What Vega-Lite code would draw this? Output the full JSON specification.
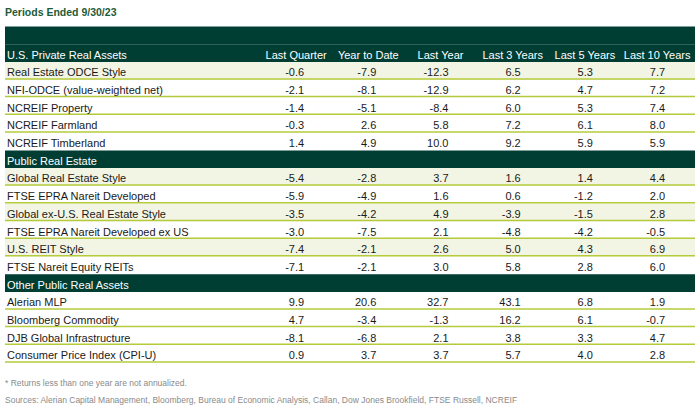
{
  "$schema": "https://vega.github.io/schema/vega-lite/v6.json",
  "width": 690,
  "height": 407,
  "autosize": {"type": "none"},
  "padding": {"left": 5, "right": 5, "top": 0, "bottom": 0},
  "background": "white",
  "config": {
    "view": {"stroke": null},
    "font": "Liberation Sans",
    "locale": {"number": {"decimal": ".", "thousands": ",", "grouping": [3], "currency": ["$", ""], "minus": "-"}}
  },
  "datasets": {
    "rows": [
      {"row": "title", "kind": "title"},
      {"row": "band", "kind": "band"},
      {"row": "U.S. Private Real Assets", "kind": "section"},
      {"row": "Real Estate ODCE Style", "kind": "index"},
      {"row": "NFI-ODCE (value-weighted net)", "kind": "index"},
      {"row": "NCREIF Property", "kind": "index"},
      {"row": "NCREIF Farmland", "kind": "index"},
      {"row": "NCREIF Timberland", "kind": "index"},
      {"row": "Public Real Estate", "kind": "section"},
      {"row": "Global Real Estate Style", "kind": "index"},
      {"row": "FTSE EPRA Nareit Developed", "kind": "index"},
      {"row": "Global ex-U.S. Real Estate Style", "kind": "index"},
      {"row": "FTSE EPRA Nareit Developed ex US", "kind": "index"},
      {"row": "U.S. REIT Style", "kind": "index"},
      {"row": "FTSE Nareit Equity REITs", "kind": "index"},
      {"row": "Other Public Real Assets", "kind": "section"},
      {"row": "Alerian MLP", "kind": "index"},
      {"row": "Bloomberg Commodity", "kind": "index"},
      {"row": "DJB Global Infrastructure", "kind": "index"},
      {"row": "Consumer Price Index (CPI-U)", "kind": "index"},
      {"row": "note1", "kind": "note"},
      {"row": "note2", "kind": "note"}
    ],
    "returns": [
      {"row": "Real Estate ODCE Style", "Last Quarter": -0.6, "Year to Date": -7.9, "Last Year": -12.3, "Last 3 Years": 6.5, "Last 5 Years": 5.3, "Last 10 Years": 7.7},
      {"row": "NFI-ODCE (value-weighted net)", "Last Quarter": -2.1, "Year to Date": -8.1, "Last Year": -12.9, "Last 3 Years": 6.2, "Last 5 Years": 4.7, "Last 10 Years": 7.2},
      {"row": "NCREIF Property", "Last Quarter": -1.4, "Year to Date": -5.1, "Last Year": -8.4, "Last 3 Years": 6.0, "Last 5 Years": 5.3, "Last 10 Years": 7.4},
      {"row": "NCREIF Farmland", "Last Quarter": -0.3, "Year to Date": 2.6, "Last Year": 5.8, "Last 3 Years": 7.2, "Last 5 Years": 6.1, "Last 10 Years": 8.0},
      {"row": "NCREIF Timberland", "Last Quarter": 1.4, "Year to Date": 4.9, "Last Year": 10.0, "Last 3 Years": 9.2, "Last 5 Years": 5.9, "Last 10 Years": 5.9},
      {"row": "Global Real Estate Style", "Last Quarter": -5.4, "Year to Date": -2.8, "Last Year": 3.7, "Last 3 Years": 1.6, "Last 5 Years": 1.4, "Last 10 Years": 4.4},
      {"row": "FTSE EPRA Nareit Developed", "Last Quarter": -5.9, "Year to Date": -4.9, "Last Year": 1.6, "Last 3 Years": 0.6, "Last 5 Years": -1.2, "Last 10 Years": 2.0},
      {"row": "Global ex-U.S. Real Estate Style", "Last Quarter": -3.5, "Year to Date": -4.2, "Last Year": 4.9, "Last 3 Years": -3.9, "Last 5 Years": -1.5, "Last 10 Years": 2.8},
      {"row": "FTSE EPRA Nareit Developed ex US", "Last Quarter": -3.0, "Year to Date": -7.5, "Last Year": 2.1, "Last 3 Years": -4.8, "Last 5 Years": -4.2, "Last 10 Years": -0.5},
      {"row": "U.S. REIT Style", "Last Quarter": -7.4, "Year to Date": -2.1, "Last Year": 2.6, "Last 3 Years": 5.0, "Last 5 Years": 4.3, "Last 10 Years": 6.9},
      {"row": "FTSE Nareit Equity REITs", "Last Quarter": -7.1, "Year to Date": -2.1, "Last Year": 3.0, "Last 3 Years": 5.8, "Last 5 Years": 2.8, "Last 10 Years": 6.0},
      {"row": "Alerian MLP", "Last Quarter": 9.9, "Year to Date": 20.6, "Last Year": 32.7, "Last 3 Years": 43.1, "Last 5 Years": 6.8, "Last 10 Years": 1.9},
      {"row": "Bloomberg Commodity", "Last Quarter": 4.7, "Year to Date": -3.4, "Last Year": -1.3, "Last 3 Years": 16.2, "Last 5 Years": 6.1, "Last 10 Years": -0.7},
      {"row": "DJB Global Infrastructure", "Last Quarter": -8.1, "Year to Date": -6.8, "Last Year": 2.1, "Last 3 Years": 3.8, "Last 5 Years": 3.3, "Last 10 Years": 4.7},
      {"row": "Consumer Price Index (CPI-U)", "Last Quarter": 0.9, "Year to Date": 3.7, "Last Year": 3.7, "Last 3 Years": 5.7, "Last 5 Years": 4.0, "Last 10 Years": 2.8}
    ],
    "headers": [
      {"row": "U.S. Private Real Assets", "period": "Last Quarter"},
      {"row": "U.S. Private Real Assets", "period": "Year to Date"},
      {"row": "U.S. Private Real Assets", "period": "Last Year"},
      {"row": "U.S. Private Real Assets", "period": "Last 3 Years"},
      {"row": "U.S. Private Real Assets", "period": "Last 5 Years"},
      {"row": "U.S. Private Real Assets", "period": "Last 10 Years"}
    ],
    "texts": [
      {"row": "title", "text": "Periods Ended 9/30/23"},
      {"row": "note1", "text": "* Returns less than one year are not annualized."},
      {"row": "note2", "text": "Sources: Alerian Capital Management, Bloomberg, Bureau of Economic Analysis, Callan, Dow Jones Brookfield, FTSE Russell, NCREIF"}
    ]
  },
  "encoding": {
    "y": {
      "field": "row", "type": "nominal", "axis": null,
      "scale": {
        "type": "band",
        "domain": ["title", "band", "U.S. Private Real Assets", "Real Estate ODCE Style", "NFI-ODCE (value-weighted net)", "NCREIF Property", "NCREIF Farmland", "NCREIF Timberland", "Public Real Estate", "Global Real Estate Style", "FTSE EPRA Nareit Developed", "Global ex-U.S. Real Estate Style", "FTSE EPRA Nareit Developed ex US", "U.S. REIT Style", "FTSE Nareit Equity REITs", "Other Public Real Assets", "Alerian MLP", "Bloomberg Commodity", "DJB Global Infrastructure", "Consumer Price Index (CPI-U)", "note1", "note2"],
        "paddingInner": 0, "paddingOuter": 0.5, "align": 0.5
      }
    }
  },
  "layer": [
    {
      "data": {"name": "rows"},
      "transform": [{"filter": "indexof(datum.row, 'Style') >= 0"}],
      "mark": {"type": "rect", "fill": "#f3f5e4"},
      "encoding": {}
    },
    {
      "data": {"name": "rows"},
      "transform": [{"filter": "datum.kind === 'index' && datum.row !== 'NCREIF Timberland' && datum.row !== 'FTSE Nareit Equity REITs'"}],
      "mark": {"type": "rule", "stroke": "#b5cb3b", "strokeWidth": 1.5, "yOffset": -0.75},
      "encoding": {
        "y": {
          "field": "row", "type": "nominal", "axis": null, "bandPosition": 1,
          "scale": {
            "type": "band",
            "domain": ["title", "band", "U.S. Private Real Assets", "Real Estate ODCE Style", "NFI-ODCE (value-weighted net)", "NCREIF Property", "NCREIF Farmland", "NCREIF Timberland", "Public Real Estate", "Global Real Estate Style", "FTSE EPRA Nareit Developed", "Global ex-U.S. Real Estate Style", "FTSE EPRA Nareit Developed ex US", "U.S. REIT Style", "FTSE Nareit Equity REITs", "Other Public Real Assets", "Alerian MLP", "Bloomberg Commodity", "DJB Global Infrastructure", "Consumer Price Index (CPI-U)", "note1", "note2"],
            "paddingInner": 0, "paddingOuter": 0.5, "align": 0.5
          }
        }
      }
    },
    {
      "data": {"name": "rows"},
      "transform": [{"filter": "datum.kind === 'band' || datum.kind === 'section'"}],
      "mark": {"type": "rect", "fill": "#003e34"},
      "encoding": {}
    },
    {
      "data": {"name": "rows"},
      "transform": [{"filter": "datum.kind === 'index' || datum.kind === 'section'"}],
      "mark": {"type": "text", "align": "left", "baseline": "middle", "fontSize": 11, "dx": 2, "dy": 2.5},
      "encoding": {
        "x": {"datum": "label", "type": "nominal", "bandPosition": 0, "axis": null, "scale": {"type": "band", "paddingInner": 0, "paddingOuter": 0}},
        "text": {"field": "row"},
        "color": {"condition": {"test": "datum.kind === 'section'", "value": "#ffffff"}, "value": "#1a1a1a"}
      }
    },
    {
      "data": {"name": "texts"},
      "transform": [{"filter": "datum.row === 'title'"}],
      "mark": {"type": "text", "align": "left", "baseline": "middle", "fontSize": 10.5, "fontWeight": "bold", "color": "#1e5b38", "dy": -5},
      "encoding": {
        "x": {"datum": "label", "type": "nominal", "bandPosition": 0, "axis": null, "scale": {"type": "band", "paddingInner": 0, "paddingOuter": 0}},
        "text": {"field": "text"}
      }
    },
    {
      "data": {"name": "texts"},
      "transform": [{"filter": "datum.row !== 'title'"}],
      "mark": {"type": "text", "align": "left", "baseline": "middle", "fontSize": 8.5, "color": "#8a8a8a", "dy": 11},
      "encoding": {
        "x": {"datum": "label", "type": "nominal", "bandPosition": 0, "axis": null, "scale": {"type": "band", "paddingInner": 0, "paddingOuter": 0}},
        "text": {"field": "text"}
      }
    },
    {
      "data": {"name": "headers"},
      "mark": {"type": "text", "align": "center", "baseline": "middle", "fontSize": 11, "color": "#ffffff", "dy": 2.5},
      "encoding": {
        "x": {"field": "period", "type": "nominal", "axis": null, "scale": {"type": "band", "domain": ["Last Quarter", "Year to Date", "Last Year", "Last 3 Years", "Last 5 Years", "Last 10 Years"], "paddingInner": 0, "paddingOuter": 0, "range": [255, 688.2]}},
        "text": {"field": "period"}
      }
    },
    {
      "data": {"name": "returns"},
      "transform": [{"fold": ["Last Quarter", "Year to Date", "Last Year", "Last 3 Years", "Last 5 Years", "Last 10 Years"], "as": ["period", "value"]}],
      "mark": {"type": "text", "align": "right", "baseline": "middle", "fontSize": 11, "color": "#1a1a1a", "dx": 8, "dy": 2.5},
      "encoding": {
        "x": {"field": "period", "type": "nominal", "axis": null, "scale": {"type": "band", "domain": ["Last Quarter", "Year to Date", "Last Year", "Last 3 Years", "Last 5 Years", "Last 10 Years"], "paddingInner": 0, "paddingOuter": 0, "range": [255, 688.2]}},
        "text": {"field": "value", "type": "quantitative", "format": ".1f"}
      }
    }
  ],
  "resolve": {"scale": {"x": "independent"}}
}
